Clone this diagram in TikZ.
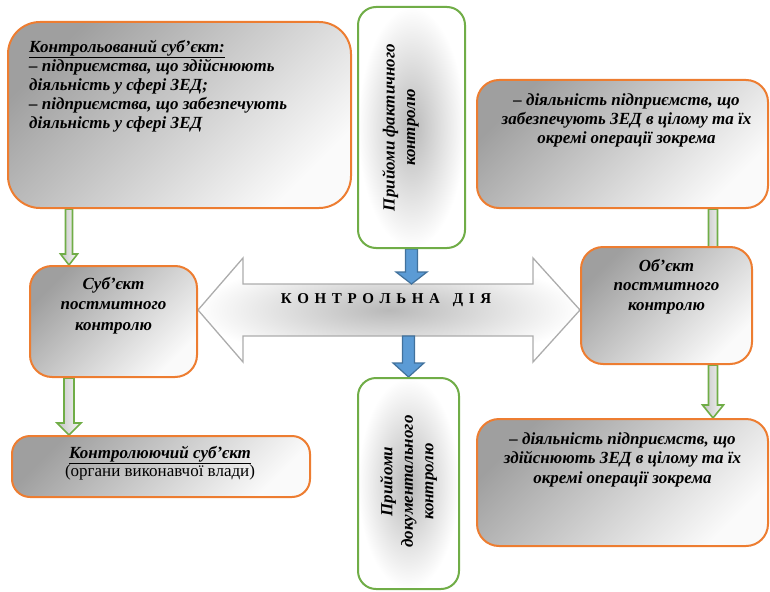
\documentclass[tikz,border=0pt]{standalone}
\usepackage{fontspec}
\setmainfont{Liberation Serif}
\usetikzlibrary{calc,backgrounds}

\definecolor{orangeline}{HTML}{ED7D31}
\definecolor{greenline}{HTML}{70AD47}
\definecolor{bluefill}{HTML}{5B9BD5}
\definecolor{blueline}{HTML}{41719C}

\newcommand{\lsp}{\hspace{5.6pt}}
%%% block arrow pointing down: style, from, to, shaft half width, head half width, head length
\newcommand{\blockdown}[6]{%
  \path[#1] let \p1=(#2), \p2=(#3) in
    (\x1-#4pt,\y1) -- (\x1+#4pt,\y1) -- (\x1+#4pt,\y2+#6pt) -- (\x1+#5pt,\y2+#6pt)
    -- (\x1,\y2) -- (\x1-#5pt,\y2+#6pt) -- (\x1-#4pt,\y2+#6pt) -- cycle;}

\tikzset{
  obox/.style={draw=orangeline, line width=2pt, rounded corners=22pt,
    top color=gray!75, bottom color=gray!4, shading angle=45},
  gbox/.style={draw=greenline, line width=2pt, rounded corners=18pt,
    inner color=gray!55, outer color=white},
  boxtext/.style={font=\fontsize{17}{19}\selectfont\bfseries\itshape, align=center, inner sep=0pt},
  vtext/.style={boxtext, rotate=90, font=\fontsize{17}{20.5}\selectfont\bfseries\itshape},
  garrow/.style={draw=greenline, line width=1.6pt, left color=gray!45, right color=gray!8},
  barrow/.style={draw=blueline, line width=1.2pt, fill=bluefill},
  bigarrow/.style={draw=gray!65, line width=1.3pt, inner color=gray!55, outer color=white}
}

\begin{document}
\begin{tikzpicture}[x=1pt,y=-1pt]
  \useasboundingbox (0,0) rectangle (770,591);
  %%% Boxes
  \node[obox, rounded corners=32pt, minimum width=343pt, minimum height=186pt] (kontrol) at (179.5,115) {};
  \node[gbox, minimum width=107pt, minimum height=241pt] (fakt) at (411.5,127.5) {};
  \node[obox, minimum width=291pt, minimum height=128pt] (diial1) at (622.5,144) {};
  \node[obox, minimum width=167pt, minimum height=111pt] (subj) at (113.5,321.5) {};
  \node[obox, minimum width=171pt, minimum height=117pt] (obj) at (666.5,305.5) {};
  \node[gbox, minimum width=101pt, minimum height=211pt] (dok) at (408.5,483.5) {};
  \node[obox, minimum width=291pt, minimum height=127pt] (diial2) at (622.5,482.5) {};
  \node[obox, rounded corners=18pt, minimum width=298pt, minimum height=61pt] (organ) at (161,466.5) {};
  %%% Texts in boxes
  \node[boxtext, align=left, anchor=north west] (kontroltxt) at ($(kontrol.north west)+(22,19)$)
    {\underline{Контрольований суб’єкт:}\\– підприємства, що здійснюють\\діяльність у сфері ЗЕД;\\– підприємства, що забезпечують\\діяльність у сфері ЗЕД};
  \node[vtext] (fakttxt) at ($(fakt.center)+(-11,0)$) {Прийоми фактичного\\контролю};
  \node[boxtext, anchor=north] (diial1txt) at ($(diial1.north)+(4,15)$)
    {– діяльність підприємств, що\\забезпечують ЗЕД в цілому та їх\\окремі операції зокрема};
  \node[boxtext, anchor=north, font=\fontsize{17}{20.5}\selectfont\bfseries\itshape] (subjtxt) at ($(subj.north)+(0,12)$) {Суб’єкт\\постмитного\\контролю};
  \node[boxtext, anchor=north, font=\fontsize{17}{19.5}\selectfont\bfseries\itshape] (objtxt) at ($(obj.north)+(0,13)$) {Об’єкт\\постмитного\\контролю};
  \node[vtext] (doktxt) at ($(dok.center)+(0,-2)$) {Прийоми\\документального\\контролю};
  \node[boxtext, anchor=north, font=\fontsize{17}{19.5}\selectfont\bfseries\itshape] (diial2txt) at ($(diial2.north)+(0,14)$)
    {– діяльність підприємств, що\\здійснюють ЗЕД в цілому та їх\\окремі операції зокрема};
  \node[boxtext, anchor=north, font=\fontsize{17}{18}\selectfont] (organtxt) at ($(organ.north)+(-1,11)$)
    {\textbf{\textit{\underline{Контролюючий суб’єкт}}}\\(органи виконавчої влади)};
  %%% Control action
  \coordinate (dmid) at (389.5,310);
  \node[font=\fontsize{15}{18}\selectfont\bfseries, inner sep=0pt] (dia) at ($(dmid)+(-3.5,-10)$)
    {К\lsp О\lsp Н\lsp Т\lsp Р\lsp О\lsp Л\lsp Ь\lsp Н\lsp А\hspace{13pt}Д\lsp І\lsp Я};
  \coordinate (gl) at ($(subj.west)+(40,0)$);
  \coordinate (gr) at ($(obj.east)+(-40,0)$);
  \begin{pgfonlayer}{background}
    %%% Heavy double arrow
    \path[bigarrow] let \p1=(subj.east |- dmid), \p2=(obj.west |- dmid) in
      (\p1) -- (\x1+45pt,\y1+52pt) -- (\x1+45pt,\y1+26pt) -- (\x2-47pt,\y1+26pt) -- (\x2-47pt,\y1+52pt)
      -- (\p2) -- (\x2-47pt,\y1-52pt) -- (\x2-47pt,\y1-26pt) -- (\x1+45pt,\y1-26pt) -- (\x1+45pt,\y1-52pt) -- cycle;
    %%% Blue arrows
    \blockdown{barrow}{fakt.south}{$(fakt.south |- dmid)+(0,-26)$}{6}{15.5}{12}
    \blockdown{barrow}{$(dok.north |- dmid)+(0,26)$}{dok.north}{6}{15.5}{14}
    %%% Green arrows
    \blockdown{garrow}{kontrol.south -| gl}{subj.north -| gl}{3.5}{8.5}{11}
    \blockdown{garrow}{subj.south -| gl}{organ.north -| gl}{5}{12}{12}
    \blockdown{garrow}{diial1.south -| gr}{$(obj.north -| gr)+(0,14)$}{4.5}{10}{11}
    \blockdown{garrow}{obj.south -| gr}{diial2.north -| gr}{4.5}{10.5}{13}
  \end{pgfonlayer}
\end{tikzpicture}
\end{document}
